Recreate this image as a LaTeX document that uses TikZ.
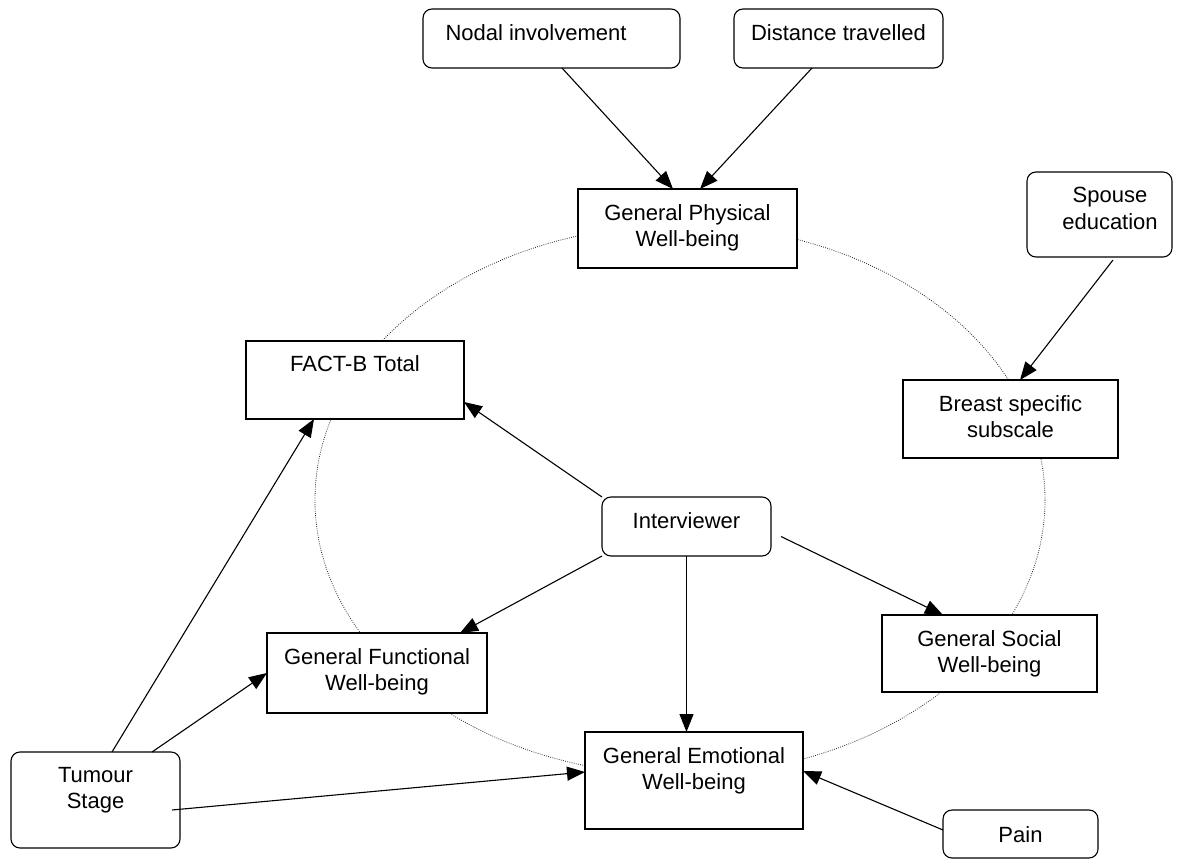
\documentclass[tikz,border=0pt]{standalone}
\usepackage{fontspec}
\setmainfont{Liberation Sans}
\usetikzlibrary{arrows.meta}
\begin{document}
\begin{tikzpicture}[x=1pt,y=-1pt,
  box/.style={draw, fill=white, line width=1.1pt, outer sep=0pt, inner sep=0pt, anchor=north west},
  rbox/.style={box, rounded corners=9pt},
  txt/.style={anchor=north, align=center, inner sep=0pt, font=\fontsize{22}{26.5}\selectfont},
  arr/.style={line width=1.1pt, -{Triangle[length=18pt,width=14pt]}},
  ring/.style={draw=black!85, line width=0.8pt, dash pattern=on 0.8pt off 1.4pt}]
\useasboundingbox[fill=white] (0,0) rectangle (1189,867);
% dotted ring
\draw[ring] (680,500) ellipse [x radius=365, y radius=275];
% boxes
\node[rbox, minimum width=257pt, minimum height=59pt] (nodal) at (423,9) {};
\node[rbox, minimum width=209pt, minimum height=59pt] (dist) at (734,9) {};
\node[box, minimum width=219pt, minimum height=79pt] (gpw) at (578,189) {};
\node[rbox, minimum width=145pt, minimum height=85pt] (spouse) at (1027,172) {};
\node[box, minimum width=218pt, minimum height=78pt] (fact) at (246,341) {};
\node[box, minimum width=215pt, minimum height=78pt] (breast) at (903,380) {};
\node[rbox, minimum width=169pt, minimum height=59pt] (inter) at (602,497) {};
\node[box, minimum width=220pt, minimum height=80pt] (gfw) at (267,633) {};
\node[box, minimum width=215pt, minimum height=77pt] (gsw) at (882,615) {};
\node[box, minimum width=218pt, minimum height=97pt] (gew) at (585,732) {};
\node[rbox, minimum width=169pt, minimum height=96pt] (tumour) at (11,752) {};
\node[rbox, minimum width=155pt, minimum height=48pt] (pain) at (943,810) {};
% texts
\node[txt] (nodalt) at (536,24) {Nodal involvement};
\node[txt] (distt) at (838.5,24) {Distance travelled};
\node[txt] (gpwt) at (687.5,204) {General Physical\\Well-being};
\node[txt] (spouset) at (1110,187) {Spouse\\education};
\node[txt] (factt) at (355,355) {FACT-B Total};
\node[txt] (breastt) at (1010.5,395) {Breast specific\\subscale};
\node[txt] (intert) at (686.5,512) {Interviewer};
\node[txt] (gfwt) at (377,648) {General Functional\\Well-being};
\node[txt] (gswt) at (989.5,630) {General Social\\Well-being};
\node[txt] (gewt) at (694,747) {General Emotional\\Well-being};
\node[txt] (tumourt) at (95.5,767) {Tumour\\Stage};
\node[txt] (paint) at (1020.5,826) {Pain};
% connectors
\draw[arr] ([xshift=10.5pt]nodal.south) -- ([xshift=-14.5pt]gpw.north);
\draw[arr] ([xshift=-26.5pt]dist.south) -- ([xshift=12.5pt]gpw.north);
\draw[arr] ([xshift=13.5pt,yshift=-3pt]spouse.south) -- ([xshift=9.5pt]breast.north);
\draw[arr] (inter.north west) -- ([yshift=-22pt]fact.east);
\draw[arr] (inter.south west) -- ([xshift=83pt]gfw.north);
\draw[arr] (inter.south) -- (inter.south |- gew.north);
\draw[arr] ([xshift=10pt,yshift=-10pt]inter.east) -- ([xshift=-46.5pt]gsw.north);
\draw[arr] ([xshift=16.5pt]tumour.north) -- ([xshift=-41pt]fact.south);
\draw[arr] ([xshift=56.5pt]tumour.north) -- (gfw.west);
\draw[arr] ([xshift=-8pt,yshift=-10pt]tumour.east) -- ([yshift=8.5pt]gew.west);
\draw[arr] ([yshift=4pt]pain.west) -- ([yshift=9.5pt]gew.east);
\end{tikzpicture}
\end{document}
